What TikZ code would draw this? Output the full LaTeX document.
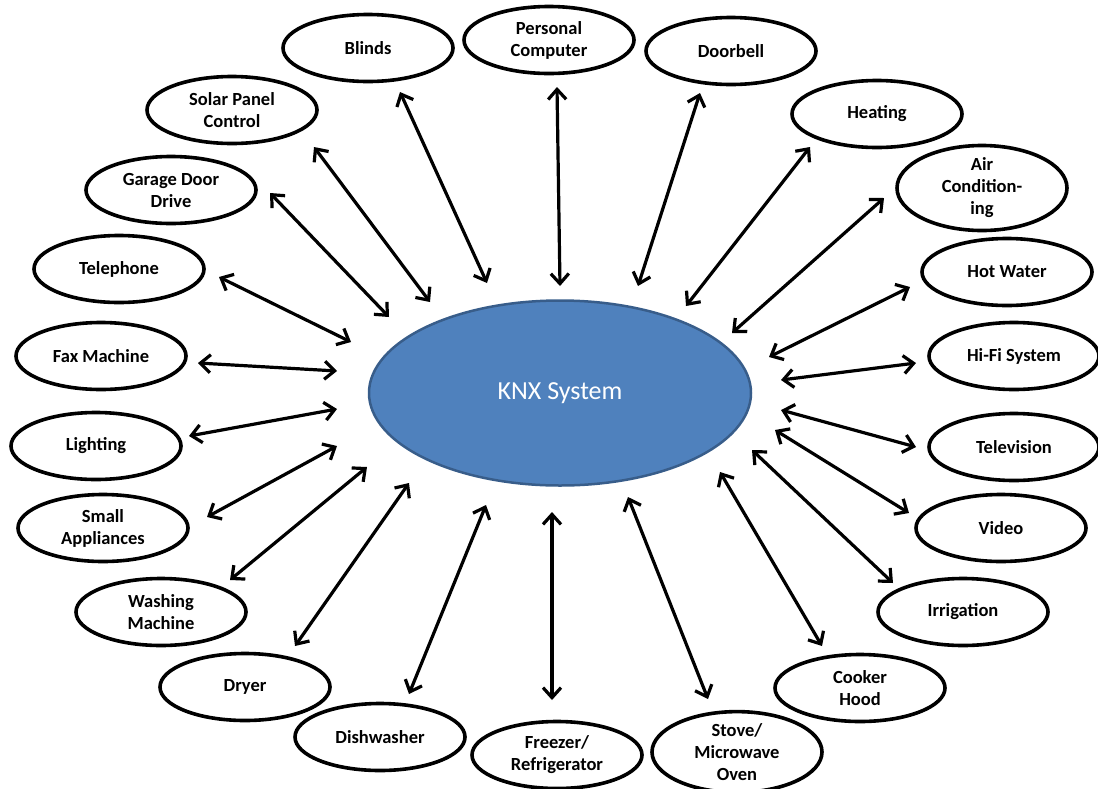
\documentclass[tikz,border=0pt]{standalone}
\usepackage{fontspec}
\setmainfont{Carlito}
\usetikzlibrary{shapes.geometric,arrows.meta}
\definecolor{knxfill}{HTML}{4F81BD}
\definecolor{knxline}{HTML}{385D8A}
\begin{document}
\begin{tikzpicture}[x=1pt,y=-1pt,
  dev/.style={ellipse,draw=black,line width=3.6pt,fill=white,minimum width=170pt,minimum height=67pt,inner sep=0pt,align=center,font=\fontsize{18.5}{22}\selectfont\bfseries},
  hub/.style={ellipse,draw=knxline,line width=2.5pt,fill=knxfill,minimum width=382pt,minimum height=185pt,inner sep=0pt,text=white,font=\fontsize{26}{30}\selectfont},
  conn/.style={line width=3.2pt,{Straight Barb[length=10pt,width=18pt]}-{Straight Barb[length=10pt,width=18pt]}}]
\useasboundingbox (0,0) rectangle (1098,788);
\clip (0,0) rectangle (1098,788);
\node[hub] (knx) at (560,393) {KNX System};
\node[dev] (blinds) at (368,48) {Blinds};
\node[dev] (pc) at (549,40) {Personal\\Computer};
\node[dev] (door) at (731,51) {Doorbell};
\node[dev] (heat) at (877,114) {Heating};
\node[dev] (air) at (982,188) {Air\\Condition-\\ing};
\node[dev] (hot) at (1007,272) {Hot Water};
\node[dev] (hifi) at (1014,356) {Hi-Fi System};
\node[dev] (tv) at (1014,447) {Television};
\node[dev] (video) at (1001,528) {Video};
\node[dev] (irr) at (963,612) {Irrigation};
\node[dev] (hood) at (860,688) {Cooker\\Hood};
\node[dev] (stove) at (737,752) {Stove/\\Microwave\\Oven};
\node[dev] (fridge) at (557,755) {Freezer/\\Refrigerator};
\node[dev] (dish) at (380,737) {Dishwasher};
\node[dev] (dryer) at (245,687) {Dryer};
\node[dev] (wash) at (161,612) {Washing\\Machine};
\node[dev] (small) at (103,528) {Small\\Appliances};
\node[dev] (light) at (96,446) {Lighting};
\node[dev] (fax) at (101,356) {Fax Machine};
\node[dev] (tel) at (119,269) {Telephone};
\node[dev] (garage) at (171,190) {Garage Door\\Drive};
\node[dev] (solar) at (232,110) {Solar Panel\\Control};
% arrow end points
\coordinate (o1) at (400,92);   \coordinate (i1) at (487,283);
\coordinate (o2) at (557,87);   \coordinate (i2) at (560,286);
\coordinate (o3) at (700,93);   \coordinate (i3) at (638,286);
\coordinate (o4) at (810,147);  \coordinate (i4) at (686,306);
\coordinate (o5) at (884,198);  \coordinate (i5) at (732,333);
\coordinate (o6) at (910,287);  \coordinate (i6) at (769,357);
\coordinate (o7) at (916,363);  \coordinate (i7) at (781,380);
\coordinate (o8) at (916,447);  \coordinate (i8) at (781,410);
\coordinate (o9) at (909,513);  \coordinate (i9) at (775,430);
\coordinate (o10) at (893,583); \coordinate (i10) at (752,450);
\coordinate (o11) at (822,646); \coordinate (i11) at (720,472);
\coordinate (o12) at (708,699); \coordinate (i12) at (628,497);
\coordinate (o13) at (552,700); \coordinate (i13) at (552,512);
\coordinate (o14) at (409,694); \coordinate (i14) at (486,505);
\coordinate (o15) at (295,646); \coordinate (i15) at (409,483);
\coordinate (o16) at (230,580); \coordinate (i16) at (367,467);
\coordinate (o17) at (207,517); \coordinate (i17) at (337,446);
\coordinate (o18) at (189,436); \coordinate (i18) at (337,409);
\coordinate (o19) at (198,363); \coordinate (i19) at (337,371);
\coordinate (o20) at (219,277); \coordinate (i20) at (351,342);
\coordinate (o21) at (270,193); \coordinate (i21) at (389,317);
\coordinate (o22) at (314,147); \coordinate (i22) at (430,302);
\foreach \k in {1,...,22} {\draw[conn] (o\k) -- (i\k);}
\end{tikzpicture}
\end{document}
